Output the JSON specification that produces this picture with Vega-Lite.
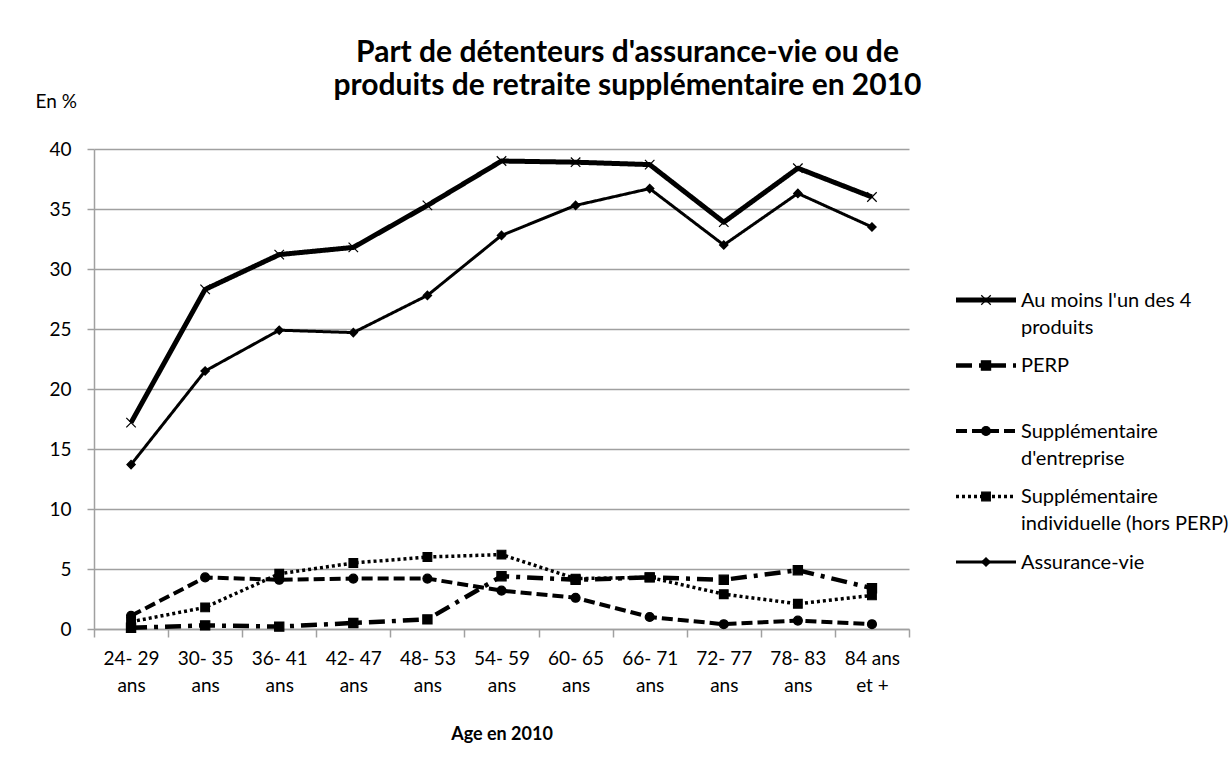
{
  "$schema": "https://vega.github.io/schema/vega-lite/v6.json",
  "padding": {"left": 35, "top": 38, "right": 0, "bottom": 0},
  "background": "white",
  "config": {"font": "Lato", "view": {"stroke": null}},
  "title": {
    "text": ["Part de détenteurs d'assurance-vie ou de", "produits de retraite supplémentaire en 2010"],
    "fontSize": 30, "fontWeight": "bold", "font": "Lato", "color": "#000",
    "anchor": "middle", "offset": -9, "lineHeight": 33, "dx": -8
  },
  "spacing": 43,
  "datasets": {
    "main": [
      {"age": "24-29 ans", "serie": "Au moins l'un des 4 produits", "v": 17.2},
      {"age": "30-35 ans", "serie": "Au moins l'un des 4 produits", "v": 28.3},
      {"age": "36-41 ans", "serie": "Au moins l'un des 4 produits", "v": 31.2},
      {"age": "42-47 ans", "serie": "Au moins l'un des 4 produits", "v": 31.8},
      {"age": "48-53 ans", "serie": "Au moins l'un des 4 produits", "v": 35.3},
      {"age": "54-59 ans", "serie": "Au moins l'un des 4 produits", "v": 39.0},
      {"age": "60-65 ans", "serie": "Au moins l'un des 4 produits", "v": 38.9},
      {"age": "66-71 ans", "serie": "Au moins l'un des 4 produits", "v": 38.7},
      {"age": "72-77 ans", "serie": "Au moins l'un des 4 produits", "v": 33.9},
      {"age": "78-83 ans", "serie": "Au moins l'un des 4 produits", "v": 38.4},
      {"age": "84 ans et +", "serie": "Au moins l'un des 4 produits", "v": 36.0},
      {"age": "24-29 ans", "serie": "PERP", "v": 0.1},
      {"age": "30-35 ans", "serie": "PERP", "v": 0.3},
      {"age": "36-41 ans", "serie": "PERP", "v": 0.2},
      {"age": "42-47 ans", "serie": "PERP", "v": 0.5},
      {"age": "48-53 ans", "serie": "PERP", "v": 0.8},
      {"age": "54-59 ans", "serie": "PERP", "v": 4.4},
      {"age": "60-65 ans", "serie": "PERP", "v": 4.1},
      {"age": "66-71 ans", "serie": "PERP", "v": 4.3},
      {"age": "72-77 ans", "serie": "PERP", "v": 4.1},
      {"age": "78-83 ans", "serie": "PERP", "v": 4.9},
      {"age": "84 ans et +", "serie": "PERP", "v": 3.4},
      {"age": "24-29 ans", "serie": "Supplémentaire d'entreprise", "v": 1.1},
      {"age": "30-35 ans", "serie": "Supplémentaire d'entreprise", "v": 4.3},
      {"age": "36-41 ans", "serie": "Supplémentaire d'entreprise", "v": 4.1},
      {"age": "42-47 ans", "serie": "Supplémentaire d'entreprise", "v": 4.2},
      {"age": "48-53 ans", "serie": "Supplémentaire d'entreprise", "v": 4.2},
      {"age": "54-59 ans", "serie": "Supplémentaire d'entreprise", "v": 3.2},
      {"age": "60-65 ans", "serie": "Supplémentaire d'entreprise", "v": 2.6},
      {"age": "66-71 ans", "serie": "Supplémentaire d'entreprise", "v": 1.0},
      {"age": "72-77 ans", "serie": "Supplémentaire d'entreprise", "v": 0.4},
      {"age": "78-83 ans", "serie": "Supplémentaire d'entreprise", "v": 0.7},
      {"age": "84 ans et +", "serie": "Supplémentaire d'entreprise", "v": 0.4},
      {"age": "24-29 ans", "serie": "Supplémentaire individuelle (hors PERP)", "v": 0.6},
      {"age": "30-35 ans", "serie": "Supplémentaire individuelle (hors PERP)", "v": 1.8},
      {"age": "36-41 ans", "serie": "Supplémentaire individuelle (hors PERP)", "v": 4.6},
      {"age": "42-47 ans", "serie": "Supplémentaire individuelle (hors PERP)", "v": 5.5},
      {"age": "48-53 ans", "serie": "Supplémentaire individuelle (hors PERP)", "v": 6.0},
      {"age": "54-59 ans", "serie": "Supplémentaire individuelle (hors PERP)", "v": 6.2},
      {"age": "60-65 ans", "serie": "Supplémentaire individuelle (hors PERP)", "v": 4.2},
      {"age": "66-71 ans", "serie": "Supplémentaire individuelle (hors PERP)", "v": 4.3},
      {"age": "72-77 ans", "serie": "Supplémentaire individuelle (hors PERP)", "v": 2.9},
      {"age": "78-83 ans", "serie": "Supplémentaire individuelle (hors PERP)", "v": 2.1},
      {"age": "84 ans et +", "serie": "Supplémentaire individuelle (hors PERP)", "v": 2.8},
      {"age": "24-29 ans", "serie": "Assurance-vie", "v": 13.7},
      {"age": "30-35 ans", "serie": "Assurance-vie", "v": 21.5},
      {"age": "36-41 ans", "serie": "Assurance-vie", "v": 24.9},
      {"age": "42-47 ans", "serie": "Assurance-vie", "v": 24.7},
      {"age": "48-53 ans", "serie": "Assurance-vie", "v": 27.8},
      {"age": "54-59 ans", "serie": "Assurance-vie", "v": 32.8},
      {"age": "60-65 ans", "serie": "Assurance-vie", "v": 35.3},
      {"age": "66-71 ans", "serie": "Assurance-vie", "v": 36.7},
      {"age": "72-77 ans", "serie": "Assurance-vie", "v": 32.0},
      {"age": "78-83 ans", "serie": "Assurance-vie", "v": 36.3},
      {"age": "84 ans et +", "serie": "Assurance-vie", "v": 33.5}
    ],
    "legend": [
      {"serie": "Au moins l'un des 4 produits", "rank": 1, "label": "Au moins l'un des 4\nproduits"},
      {"serie": "PERP", "rank": 2, "label": "PERP"},
      {"serie": "Supplémentaire d'entreprise", "rank": 3, "label": "Supplémentaire\nd'entreprise"},
      {"serie": "Supplémentaire individuelle (hors PERP)", "rank": 4, "label": "Supplémentaire\nindividuelle (hors PERP)"},
      {"serie": "Assurance-vie", "rank": 5, "label": "Assurance-vie"}
    ]
  },
  "hconcat": [
    {
      "width": 815,
      "height": 480,
      "data": {"name": "main"},
      "encoding": {
        "x": {
          "field": "age", "type": "ordinal", "sort": null, "bandPosition": 0.5,
          "scale": {"type": "band", "paddingInner": 0, "paddingOuter": 0},
          "axis": {
            "title": "Age en 2010", "titleFontSize": 18, "titleFontWeight": "bold", "titleColor": "#000", "titlePadding": 30,
            "labelAngle": 0, "labelFontSize": 19, "labelColor": "#000", "labelLineHeight": 27, "labelBaseline": "top",
            "labelExpr": "isValid(datum.value) ? (datum.value == '84 ans et +' ? ['84 ans', 'et +'] : [replace(split(datum.value, ' ')[0], '-', '- '), 'ans']) : ''",
            "labelPadding": 12, "tickBand": "extent", "tickSize": 8, "tickColor": "#a0a0a0", "tickWidth": 1.5,
            "domainColor": "#a0a0a0", "domainWidth": 1.5, "grid": false
          }
        },
        "y": {
          "field": "v", "type": "quantitative",
          "scale": {"domain": [0, 40], "nice": false},
          "axis": {
            "values": [0, 5, 10, 15, 20, 25, 30, 35, 40],
            "title": "En %", "titleAngle": 0, "titleAlign": "left", "titleBaseline": "alphabetic",
            "titleX": -59, "titleY": -42, "titleFontSize": 19, "titleFontWeight": "normal", "titleColor": "#000",
            "labelFontSize": 19, "labelColor": "#000", "labelPadding": 16,
            "tickSize": 7, "tickColor": "#a0a0a0", "tickWidth": 1.5,
            "domainColor": "#a0a0a0", "domainWidth": 1.5,
            "grid": true, "gridColor": "#a0a0a0", "gridWidth": 1.5
          }
        }
      },
      "layer": [
        {
          "mark": {"type": "line", "color": "black", "strokeCap": "butt", "strokeJoin": "round"},
          "encoding": {
            "strokeDash": {
              "field": "serie", "type": "nominal", "legend": null,
              "scale": {
                "domain": ["Au moins l'un des 4 produits", "PERP", "Supplémentaire d'entreprise", "Supplémentaire individuelle (hors PERP)", "Assurance-vie"],
                "range": [[1, 0], [16, 7, 4, 7], [11, 5], [3, 3], [1, 0]]
              }
            },
            "strokeWidth": {
              "field": "serie", "type": "nominal", "legend": null,
              "scale": {
                "domain": ["Au moins l'un des 4 produits", "PERP", "Supplémentaire d'entreprise", "Supplémentaire individuelle (hors PERP)", "Assurance-vie"],
                "range": [5, 3, 3, 3, 2.5]
              }
            }
          }
        },
        {
          "mark": {"type": "point", "filled": true, "color": "black", "stroke": "black", "strokeWidth": 1.2, "opacity": 1},
          "encoding": {
            "shape": {
              "field": "serie", "type": "nominal", "legend": null,
              "scale": {
                "domain": ["Au moins l'un des 4 produits", "PERP", "Supplémentaire d'entreprise", "Supplémentaire individuelle (hors PERP)", "Assurance-vie"],
                "range": ["M-1,-1L1,1M-1,1L1,-1", "square", "circle", "square", "diamond"]
              }
            },
            "size": {
              "field": "serie", "type": "nominal", "legend": null,
              "scale": {
                "domain": ["Au moins l'un des 4 produits", "PERP", "Supplémentaire d'entreprise", "Supplémentaire individuelle (hors PERP)", "Assurance-vie"],
                "range": [90, 70, 120, 90, 100]
              }
            }
          }
        }
      ]
    },
    {
      "width": 280,
      "height": 480,
      "data": {"name": "legend"},
      "encoding": {
        "y": {"field": "rank", "type": "quantitative", "scale": {"domain": [-1.305, 6.023], "reverse": true, "nice": false, "zero": false}, "axis": null}
      },
      "layer": [
        {
          "mark": {"type": "rule", "color": "black", "strokeCap": "butt"},
          "encoding": {
            "x": {"datum": 0, "type": "quantitative", "scale": {"domain": [0, 280], "nice": false, "zero": false}, "axis": null},
            "x2": {"datum": 60},
            "strokeDash": {
              "field": "serie", "type": "nominal", "legend": null,
              "scale": {
                "domain": ["Au moins l'un des 4 produits", "PERP", "Supplémentaire d'entreprise", "Supplémentaire individuelle (hors PERP)", "Assurance-vie"],
                "range": [[1, 0], [16, 7, 4, 7], [11, 5], [3, 3], [1, 0]]
              }
            },
            "strokeWidth": {
              "field": "serie", "type": "nominal", "legend": null,
              "scale": {
                "domain": ["Au moins l'un des 4 produits", "PERP", "Supplémentaire d'entreprise", "Supplémentaire individuelle (hors PERP)", "Assurance-vie"],
                "range": [5, 3, 3, 3, 2.5]
              }
            }
          }
        },
        {
          "mark": {"type": "point", "filled": true, "color": "black", "stroke": "black", "strokeWidth": 1.2, "opacity": 1},
          "encoding": {
            "x": {"datum": 30, "type": "quantitative"},
            "shape": {
              "field": "serie", "type": "nominal", "legend": null,
              "scale": {
                "domain": ["Au moins l'un des 4 produits", "PERP", "Supplémentaire d'entreprise", "Supplémentaire individuelle (hors PERP)", "Assurance-vie"],
                "range": ["M-1,-1L1,1M-1,1L1,-1", "square", "circle", "square", "diamond"]
              }
            },
            "size": {
              "field": "serie", "type": "nominal", "legend": null,
              "scale": {
                "domain": ["Au moins l'un des 4 produits", "PERP", "Supplémentaire d'entreprise", "Supplémentaire individuelle (hors PERP)", "Assurance-vie"],
                "range": [90, 70, 120, 90, 100]
              }
            }
          }
        },
        {
          "mark": {"type": "text", "align": "left", "baseline": "alphabetic", "dy": 7, "fontSize": 20, "lineBreak": "\n", "lineHeight": 27, "color": "#000"},
          "encoding": {
            "x": {"datum": 65, "type": "quantitative"},
            "text": {"field": "label"}
          }
        }
      ]
    }
  ]
}
